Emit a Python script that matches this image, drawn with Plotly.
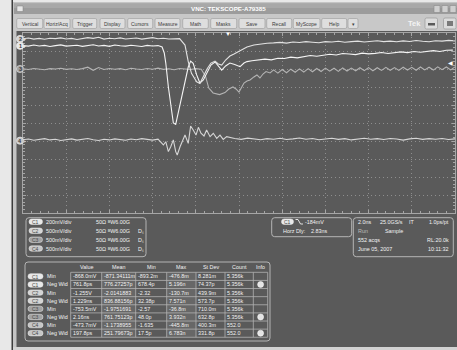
import plotly.graph_objects as go

W, H = 457, 350
FONT = "Liberation Sans, Arial, sans-serif"

# ---------------- data ----------------
# waveforms: time in ns (2 ns/div, centre = 0), level in screen divisions (centre = 0)
c1_t = [-10.0, -9.75, -9.5, -9.25, -9.0, -8.75, -8.5, -8.25, -8.0, -7.75, -7.5, -7.25, -7.0,
        -6.75, -6.5, -6.25, -6.0, -5.75, -5.5, -5.25, -5.0, -4.75, -4.5, -4.25, -4.0, -3.75,
        -3.56, -3.46, -3.39, -3.27, -3.16, -3.04, -2.93, -2.81, -2.65, -2.50, -2.35, -2.24,
        -2.12, -1.96, -1.81, -1.65, -1.48, -1.30, -1.11, -0.96, -0.80, -0.62, -0.42, -0.20,
        0.05, 0.23, 0.37,
        0.6, 0.9, 1.2, 1.5, 1.8, 2.1, 2.4, 2.7, 3.0, 3.3, 3.6, 3.9, 4.2, 4.5, 4.8, 5.1, 5.4,
        5.7, 6.0, 6.3, 6.6, 6.9, 7.2, 7.5, 7.8, 8.1, 8.4, 8.7, 9.0, 9.3, 9.6, 9.9]
c1_v = [4.30, 4.27, 4.33, 4.28, 4.31, 4.25, 4.30, 4.34, 4.27, 4.29, 4.32, 4.26, 4.30,
        4.35, 4.28, 4.31, 4.26, 4.33, 4.29, 4.27, 4.32, 4.30, 4.25, 4.31, 4.28, 4.30,
        4.22, 3.89, 3.33, 2.00, 0.89, 0.00, -0.08, 0.56, 1.44, 2.39, 3.11, 3.44,
        3.31, 2.67, 2.22, 2.39, 2.83, 3.22, 3.39, 3.19, 2.94, 3.17, 3.33, 3.25,
        3.13, 3.33, 3.41,
        3.46, 3.50, 3.55, 3.51, 3.60, 3.58, 3.66, 3.62, 3.70, 3.75, 3.71, 3.76, 3.82, 3.78,
        3.86, 3.83, 3.80, 3.88, 3.84, 3.87, 3.92, 3.86, 3.90, 3.95, 3.91, 3.97, 3.93, 3.98,
        4.02, 3.97, 4.04, 4.05]

c2_t = [-10.0, -9.75, -9.5, -9.25, -9.0, -8.75, -8.5, -8.25, -8.0, -7.75, -7.5, -7.25, -7.0,
        -6.75, -6.5, -6.25, -6.0, -5.75, -5.5, -5.25, -5.0, -4.75, -4.5, -4.25, -4.0, -3.75,
        -3.5, -3.25, -3.0, -2.75,
        -2.50, -2.35, -2.20, -1.96, -1.81, -1.65, -1.48, -1.30, -1.11, -0.96, -0.80, -0.62,
        -0.42, -0.23, -0.05, 0.19, 0.37, 0.69, 0.97, 1.30,
        1.6, 1.9, 2.2, 2.5, 2.8, 3.1, 3.4, 3.7, 4.0, 4.3, 4.6, 4.9, 5.2, 5.5, 5.8, 6.1, 6.4,
        6.7, 7.0, 7.3, 7.6, 7.9, 8.2, 8.5, 8.8, 9.1, 9.4, 9.7, 10.0]
c2_v = [4.68, 4.72, 4.66, 4.70, 4.65, 4.71, 4.69, 4.73, 4.67, 4.70, 4.64, 4.69, 4.74,
        4.70, 4.76, 4.66, 4.71, 4.68, 4.73, 4.67, 4.70, 4.72, 4.66, 4.69, 4.74, 4.68,
        4.71, 4.67, 4.70, 4.69,
        4.33, 3.41, 2.76, 2.29, 2.19, 2.61, 3.00, 3.33, 3.44, 3.28, 3.22, 3.50,
        3.72, 3.83, 3.94, 4.11, 4.22, 4.33, 4.39, 4.43,
        4.45, 4.48, 4.44, 4.50, 4.47, 4.52, 4.49, 4.46, 4.52, 4.50, 4.54, 4.49, 4.52, 4.55,
        4.50, 4.53, 4.57, 4.52, 4.55, 4.51, 4.56, 4.53, 4.58, 4.54, 4.51, 4.57, 4.55, 4.59, 4.56]

c3_t = [-10.0, -9.75, -9.5, -9.25, -9.0, -8.75, -8.5, -8.25, -8.0, -7.75, -7.5, -7.25, -7.0,
        -6.75, -6.5, -6.25, -6.0, -5.75, -5.5, -5.25, -5.0, -4.75, -4.5, -4.25, -4.0, -3.75,
        -3.5, -3.25, -3.0, -2.75, -2.5, -2.25, -2.0, -1.75,
        -1.55, -1.40, -1.20, -0.90, -0.65, -0.47, -0.28, -0.14, 0.0, 0.09, 0.23, 0.37, 0.51,
        0.69, 0.83, 0.97, 1.11, 1.25, 1.44,
        1.6, 1.8, 2.0, 2.2, 2.4, 2.6, 2.8, 3.0, 3.2, 3.4, 3.6, 3.8, 4.0, 4.2, 4.4, 4.6, 4.8,
        5.0, 5.2, 5.4, 5.6, 5.8, 6.0, 6.2, 6.4, 6.6, 6.8, 7.0, 7.2, 7.4, 7.6, 7.8, 8.0, 8.2,
        8.4, 8.6, 8.8, 9.0, 9.2, 9.4, 9.6, 9.8, 10.0]
c3_v = [3.01, 2.97, 3.03, 2.99, 2.96, 3.02, 3.00, 3.04, 2.98, 3.01, 2.97, 3.02, 3.10,
        2.93, 3.08, 2.97, 3.03, 2.99, 3.02, 2.96, 3.04, 3.00, 2.97, 3.03, 2.99, 3.05,
        2.98, 3.01, 2.96, 3.03, 3.00, 2.97, 3.02, 2.99,
        2.60, 1.94, 1.67, 1.58, 1.69, 1.89, 2.00, 1.89, 1.72, 1.94, 2.22, 2.33, 2.39,
        2.56, 2.67, 2.50, 2.72, 2.86, 2.78,
        2.95, 2.77, 2.97, 2.79, 2.99, 2.82, 3.01, 2.83, 3.02, 2.85, 3.03, 2.86, 3.05, 2.88,
        3.04, 2.87, 3.06, 2.89, 3.05, 2.90, 3.07, 2.91, 3.08, 2.90, 3.07, 2.92, 3.09, 2.93,
        3.08, 2.92, 3.10, 2.94, 3.09, 2.93, 3.11, 2.95, 3.10, 2.94, 3.12, 2.96, 3.11, 2.95, 3.12]

c4_t = [-10.0, -9.75, -9.5, -9.25, -9.0, -8.75, -8.5, -8.25, -8.0, -7.75, -7.5, -7.25, -7.0,
        -6.75, -6.5, -6.25, -6.0, -5.75, -5.5, -5.25, -5.0, -4.75, -4.5, -4.25, -4.0, -3.75,
        -3.50, -3.39, -3.27, -3.16, -3.04, -2.93, -2.86, -2.73, -2.61, -2.50, -2.35, -2.24,
        -2.12, -1.99, -1.88, -1.76, -1.62, -1.50, -1.34, -1.19, -1.03, -0.88, -0.73, -0.57,
        -0.2, 0.1, 0.4, 0.7, 1.0, 1.3, 1.6, 1.9, 2.2, 2.5, 2.8, 3.1, 3.4, 3.7, 4.0, 4.3, 4.6,
        4.9, 5.2, 5.5, 5.8, 6.1, 6.4, 6.7, 7.0, 7.3, 7.6, 7.9, 8.2, 8.5, 8.8, 9.1, 9.4, 9.7, 10.0]
c4_v = [-0.93, -0.89, -0.96, -0.91, -0.87, -0.94, -0.90, -0.97, -0.92, -0.88, -0.95, -0.91,
        -0.86, -0.93, -0.97, -0.90, -0.94, -0.88, -0.92, -0.96, -0.89, -0.93, -0.87, -0.91,
        -0.95, -0.90,
        -1.22, -1.04, -1.59, -1.32, -0.94, -1.59, -1.78, -1.32, -0.94, -0.67, -1.13, -0.17,
        -0.39, -0.67, -0.24, -0.57, -0.72, -0.39, -0.76, -0.57, -0.85, -0.67, -0.91, -0.76,
        -0.86, -0.91, -0.84, -0.89, -0.93, -0.87, -0.90, -0.85, -0.92, -0.88, -0.83, -0.90,
        -0.86, -0.93, -0.88, -0.85, -0.91, -0.87, -0.94, -0.89, -0.85, -0.90, -0.87, -0.92,
        -0.86, -0.89, -0.95, -0.88, -0.85, -0.91, -0.87, -0.90, -0.86, -0.92, -0.88]

channels = ["C1", "C2", "C3", "C4"]
ch_level = [4.29, 4.67, 3.0, -0.98]          # ground markers, divisions
ch_scale = ["200mV/div", "500mV/div", "500mV/div", "500mV/div"]
ch_term = ["50Ω", "50Ω", "50Ω", "50Ω"]
ch_bw = ["ᴮW6.00G", "ᴮW6.00G", "ᴮW6.00G", "ᴮW6.00G"]
ch_ds = [False, True, True, True]

trig_pos_ns = -0.51
trig_level_div = 3.35
trig_source = "C1"
trig_text = "-184mV"
horz_dly = "2.83ns"

acq_rows = [["2.0ns", "25.0GS/s", "IT", "1.0ps/pt"],
            ["Run", "Sample", "", ""],
            ["552 acqs", "", "", "RL:20.0k"],
            ["June 05, 2007", "", "", "10:11:32"]]

menu_labels = ["Vertical", "Horiz/Acq", "Trigger", "Display", "Cursors", "Measure", "Math",
               "Masks", "Save", "Recall", "MyScope", "Help", "▾"]
title_text = "VNC: TEKSCOPE-A79385"

meas_header = ["Value", "Mean", "Min", "Max", "St Dev", "Count", "Info"]
meas_ch = ["C1", "C1", "C2", "C2", "C3", "C3", "C4", "C4"]
meas_name = ["Min", "Neg Wid", "Min", "Neg Wid", "Min", "Neg Wid", "Min", "Neg Wid"]
meas_value = ["-868.0mV", "761.8ps", "-1.255V", "1.229ns", "-753.5mV", "2.16ns", "-473.7mV", "197.8ps"]
meas_mean = ["-871.34111m", "776.27257p", "-2.0141883", "836.88156p", "-1.9751691", "761.75123p",
             "-1.1738955", "251.79673p"]
meas_min = ["-893.2m", "678.4p", "-2.32", "32.38p", "-2.57", "48.0p", "-1.635", "17.5p"]
meas_max = ["-476.8m", "5.196n", "-130.7m", "7.571n", "-36.8m", "3.932n", "-445.8m", "6.783n"]
meas_std = ["8.281m", "74.37p", "439.9m", "573.7p", "710.0m", "632.8p", "400.3m", "331.8p"]
meas_count = ["5.356k", "5.356k", "5.356k", "5.356k", "5.356k", "5.356k", "552.0", "552.0"]
meas_info = [False, True, False, False, False, True, False, True]

# ---------------- styles / layout constants ----------------
trace_col = {"C1": "#f4f4f4", "C2": "#e2e2e2", "C3": "#b4b4b4", "C4": "#d6d6d6"}
pill_col = {"C1": "#e8e8e8", "C2": "#d4d4d4", "C3": "#a2a2a2", "C4": "#c6c6c6"}
SCREEN = "#5a5a5a"
TXT = "#f2f2f2"
BOX = "#b4b4b4"


def X(px):
    return px / W


def Y(py):
    return 1 - py / H


shapes = []
annotations = []


def rect(x0, y0, x1, y1, fill="rgba(0,0,0,0)", line="rgba(0,0,0,0)", lw=0, layer="above"):
    shapes.append(dict(type="rect", xref="paper", yref="paper", x0=X(x0), x1=X(x1),
                       y0=Y(y1), y1=Y(y0), fillcolor=fill,
                       line=dict(color=line, width=lw), layer=layer))


def rrect(x0, y0, x1, y1, r, fill="rgba(0,0,0,0)", line="rgba(0,0,0,0)", lw=0, layer="above"):
    p = (f"M{X(x0 + r)},{Y(y0)} L{X(x1 - r)},{Y(y0)} Q{X(x1)},{Y(y0)} {X(x1)},{Y(y0 + r)} "
         f"L{X(x1)},{Y(y1 - r)} Q{X(x1)},{Y(y1)} {X(x1 - r)},{Y(y1)} L{X(x0 + r)},{Y(y1)} "
         f"Q{X(x0)},{Y(y1)} {X(x0)},{Y(y1 - r)} L{X(x0)},{Y(y0 + r)} Q{X(x0)},{Y(y0)} {X(x0 + r)},{Y(y0)} Z")
    shapes.append(dict(type="path", xref="paper", yref="paper", path=p, fillcolor=fill,
                       line=dict(color=line, width=lw), layer=layer))


def hline(x0, x1, y, color, lw=1, layer="above"):
    shapes.append(dict(type="line", xref="paper", yref="paper", x0=X(x0), x1=X(x1),
                       y0=Y(y), y1=Y(y), line=dict(color=color, width=lw), layer=layer))


def vline(x, y0, y1, color, lw=1, layer="above"):
    shapes.append(dict(type="line", xref="paper", yref="paper", x0=X(x), x1=X(x),
                       y0=Y(y0), y1=Y(y1), line=dict(color=color, width=lw), layer=layer))


def text(x, y, s, size=5.4, color=TXT, anchor="left", bold=False):
    annotations.append(dict(x=X(x), y=Y(y), xref="paper", yref="paper", text=s, showarrow=False,
                            xanchor=anchor, yanchor="middle", borderpad=0,
                            font=dict(size=size, color=color, family=FONT,
                                      weight="bold" if bold else "normal")))


def pill(x0, x1, yc, ch, h=5.4):
    rrect(x0, yc - h / 2, x1, yc + h / 2, h / 2, fill=pill_col[ch], line="#eeeeee", lw=0.5)
    text((x0 + x1) / 2, yc + 0.2, ch, size=5, color="#4a4a4a", anchor="center")


# ---------------- window chrome ----------------
rect(11.5, 0, 13, 350, fill="#3c3c3c", layer="below")
rect(13, 2, 457, 350, fill="#c4c4c4", layer="below")
rect(14, 3.5, 457, 14, fill="#9c9c9c", layer="below")
rect(14, 3.5, 457, 8, fill="#a8a8a8", layer="below")
rect(17, 6, 23, 11.5, fill="#e6e6e6", line="#808080", lw=0.5, layer="below")
text(228, 9, title_text, size=6.2, color="#ffffff", anchor="center", bold=True)
for bx in [(434, 440), (442, 448), (450, 456)]:
    rect(bx[0], 5.5, bx[1], 12.5, fill="#cfcfcf", line="#8a8a8a", lw=0.6, layer="below")
rect(14, 14, 457, 31, fill="#c8c8c8", layer="below")
menu_x = [(16.7, 42.7), (44, 70), (72.7, 96.7), (100, 125), (127.7, 152.7), (155, 180),
          (182.7, 208.3), (210.7, 236.7), (239, 265), (266.7, 291.7), (293.3, 320),
          (321.7, 346.7), (348, 358)]
for lab, (a, b) in zip(menu_labels, menu_x):
    rrect(a, 18.5, b, 28.5, 1.5, fill="#dedede", line="#a2a2a2", lw=0.7, layer="below")
    text((a + b) / 2, 23.6, lab, size=5.0, color="#3c3c3c", anchor="center")
text(414, 23, "Tek", size=7.5, color="#f4f4f4", anchor="center", bold=True)
for a, b in [(425, 437.5), (443.5, 456)]:
    rrect(a, 18, b, 29, 1.5, fill="#dcdcdc", line="#9a9a9a", lw=0.7, layer="below")
rect(428, 23, 435, 25.5, fill="#5a5a5a", layer="below")
rect(447, 21, 453, 26, fill="#7a7a7a", layer="below")

# dark screen + lower panel
rect(16.5, 31, 457, 347, fill=SCREEN, layer="below")
rect(13, 347, 457, 350, fill="#d2d2d2", layer="below")

# ---------------- channel box ----------------
rrect(26, 217.7, 146, 256.7, 3, line=BOX, lw=1)
ch_rows_y = [221.7, 230.7, 239.7, 248.5]
for ch, sc, te, bw, ds, yy in zip(channels, ch_scale, ch_term, ch_bw, ch_ds, ch_rows_y):
    pill(29, 42.5, yy, ch)
    text(45, yy, sc)
    text(94.5, yy, te)
    text(107, yy, bw)
    if ds:
        text(137, yy, "Dₛ")

# ---------------- trigger box ----------------
rrect(271.7, 217.7, 351.7, 236.7, 3, line=BOX, lw=1)
pill(281.5, 293.5, 221.7, trig_source)
shapes.append(dict(type="path", xref="paper", yref="paper",
                   path=f"M{X(295.5)},{Y(219.5)} L{X(298)},{Y(219.5)} L{X(300.5)},{Y(224)} L{X(303)},{Y(224)}",
                   line=dict(color=TXT, width=0.9)))
text(303.5, 221.7, trig_text)
text(281.7, 230.7, "Horz Dly:")
text(309.5, 230.7, horz_dly)

# ---------------- acquisition box ----------------
rrect(353.3, 217.7, 453.3, 256.7, 3, line=BOX, lw=1)
acq_x = [(356.5, "left"), (378.5, "left"), (408, "left"), (450, "right")]
for r, yy in zip(acq_rows, ch_rows_y):
    for k, s in enumerate(r):
        if not s:
            continue
        xx, anc = acq_x[k]
        if r[0] == "Run" and k == 1:
            xx = 383.5
        col = "#bdbdbd" if s == "Run" else TXT
        text(xx, yy, s, color=col, anchor=anc)

# ---------------- measurement table ----------------
rrect(25, 262, 270, 341, 3, line=BOX, lw=1)
col_edges = [70.7, 101.7, 135.7, 166.7, 196, 225, 253.3, 267.7]
row_top = 272.3
row_h = 8.12
n_rows = len(meas_ch)
for ci in (1, 3):
    rect(col_edges[ci], row_top, col_edges[ci + 1], row_top + n_rows * row_h, fill="#676767")
for k in range(n_rows + 1):
    hline(col_edges[0], col_edges[-1], row_top + k * row_h, "#b2b2b2", 0.8)
for xe in col_edges:
    vline(xe, row_top, row_top + n_rows * row_h, "#b2b2b2", 0.8)
for ci, hdr in enumerate(meas_header):
    text((col_edges[ci] + col_edges[ci + 1]) / 2, 267.3, hdr, anchor="center")
cols = [meas_value, meas_mean, meas_min, meas_max, meas_std, meas_count]
for ri in range(n_rows):
    yy = row_top + (ri + 0.5) * row_h
    pill(28, 43, yy, meas_ch[ri])
    text(45.5, yy, meas_name[ri])
    for ci, col in enumerate(cols):
        text(col_edges[ci] + 1.0, yy, col[ri])
    if meas_info[ri]:
        shapes.append(dict(type="circle", xref="paper", yref="paper",
                           x0=X(257.6), x1=X(263.6), y0=Y(yy + 3), y1=Y(yy - 3),
                           fillcolor="#e4e4e4", line=dict(color="#ffffff", width=0.5)))

# ---------------- waveforms ----------------
fig = go.Figure()
for ch, t, v in [("C3", c3_t, c3_v), ("C4", c4_t, c4_v), ("C1", c1_t, c1_v), ("C2", c2_t, c2_v)]:
    fig.add_trace(go.Scatter(x=t, y=v, mode="lines", line=dict(color=trace_col[ch], width=1.1),
                             hoverinfo="skip", showlegend=False))

# channel ground markers
for ch, lv in zip(channels, ch_level):
    shapes.append(dict(type="circle", xref="paper", xsizemode="pixel", xanchor=X(20),
                       x0=-3.6, x1=3.6, yref="y", ysizemode="pixel", yanchor=lv, y0=-3.6, y1=3.6,
                       fillcolor=pill_col[ch], line=dict(color="#f0f0f0", width=0.6)))
    annotations.append(dict(x=X(20), y=lv, xref="paper", yref="y", text=ch[1:], showarrow=False,
                            xanchor="center", yanchor="middle", borderpad=0,
                            font=dict(size=5.5, color="#3a3a3a", family=FONT, weight="bold")))
    annotations.append(dict(x=X(24.5), y=lv, xref="paper", yref="y", text="▸", showarrow=False,
                            xanchor="center", yanchor="middle", borderpad=0,
                            font=dict(size=5.5, color=pill_col[ch], family=FONT)))

# trigger position and level markers
annotations.append(dict(x=trig_pos_ns, y=Y(34), xref="x", yref="paper", text="▼", showarrow=False,
                        xanchor="center", yanchor="middle", borderpad=0,
                        font=dict(size=6, color="#ffffff", family=FONT)))
annotations.append(dict(x=X(450), y=trig_level_div, xref="paper", yref="y", text="◀", showarrow=False,
                        xanchor="center", yanchor="middle", borderpad=0,
                        font=dict(size=5.5, color="#ffffff", family=FONT)))

GRID = "#8e8e8e"
EDGE = "#a6a6a6"
xd = [X(23), X(455)]
yd = [Y(213), Y(33)]
common = dict(showticklabels=False, zeroline=False, fixedrange=True)

fig.update_layout(
    width=W, height=H, margin=dict(l=0, r=0, t=0, b=0),
    paper_bgcolor="#e8e8e8", plot_bgcolor=SCREEN,
    font=dict(family=FONT, color=TXT),
    shapes=shapes, annotations=annotations, showlegend=False,
    xaxis=dict(domain=xd, range=[-10, 10], dtick=2, tick0=0, showgrid=True, gridcolor=GRID,
               griddash="1px,3px", gridwidth=1, showline=True, linecolor=EDGE, linewidth=1,
               mirror="ticks", ticks="inside", ticklen=3, tickcolor=EDGE,
               minor=dict(dtick=0.4, ticks="inside", ticklen=2, tickcolor=EDGE, showgrid=False),
               **common),
    yaxis=dict(domain=yd, range=[-5, 5], dtick=1, tick0=0, showgrid=True, gridcolor=GRID,
               griddash="1px,3px", gridwidth=1, showline=True, linecolor=EDGE, linewidth=1,
               mirror="ticks", ticks="inside", ticklen=3, tickcolor=EDGE,
               minor=dict(dtick=0.2, ticks="inside", ticklen=2, tickcolor=EDGE, showgrid=False),
               **common),
    xaxis2=dict(overlaying="x", anchor="free", position=Y(123), range=[-10, 10], dtick=0.4,
                showgrid=False, showline=True, linecolor=EDGE, linewidth=1, ticks="outside",
                ticklen=2, tickcolor=EDGE, **common),
    xaxis3=dict(overlaying="x", anchor="free", position=Y(123), range=[-10, 10], dtick=0.4,
                showgrid=False, showline=False, ticks="inside", ticklen=2, tickcolor=EDGE, **common),
    yaxis2=dict(overlaying="y", anchor="free", position=X(239), range=[-5, 5], dtick=0.2,
                showgrid=False, showline=True, linecolor=EDGE, linewidth=1, ticks="outside",
                ticklen=2, tickcolor=EDGE, **common),
    yaxis3=dict(overlaying="y", anchor="free", position=X(239), range=[-5, 5], dtick=0.2,
                showgrid=False, showline=False, ticks="inside", ticklen=2, tickcolor=EDGE, **common),
)

fig.write_html("out.html", config={"displayModeBar": False, "staticPlot": True})
